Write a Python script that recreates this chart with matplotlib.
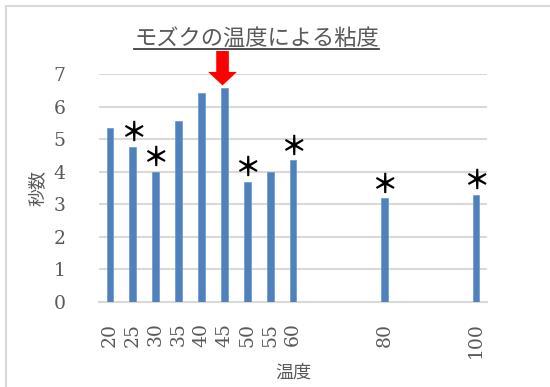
import matplotlib
matplotlib.use('Agg')
import matplotlib.pyplot as plt
from matplotlib.lines import Line2D
from matplotlib.patches import Rectangle

# 温度ごとの粘度（秒数）
temps = [20, 25, 30, 35, 40, 45, 50, 55, 60, 80, 100]
seconds = [5.34, 4.77, 4.00, 5.55, 6.43, 6.58, 3.69, 4.00, 4.35, 3.19, 3.30]
marked = [25, 30, 50, 60, 80, 100]   # ＊印をつける温度
peak = 45                            # 矢印で示す温度

jp = ['Noto Sans CJK JP', 'DejaVu Sans']
num = 'DejaVu Serif'
grey = '#595959'

W, H = 550, 387
fig = plt.figure(figsize=(W / 100, H / 100), dpi=100)
fig.patches.append(Rectangle((6 / W, -0.1), 1.2, 1.1 - 6 / H, transform=fig.transFigure,
                             fill=False, edgecolor='#d9d9d9', linewidth=1.5))

ax = fig.add_axes([99 / W, 1 - 301.7 / H, (487 - 99) / W, (301.7 - 74.4) / H])
ax.bar(temps, seconds, width=1.5, color='#4f81bd', edgecolor='#6a96cc', linewidth=0.5, zorder=3)

ax.set_xlim(17.6, 102.4)
ax.set_ylim(0, 7)
ax.set_yticks(range(8))
ax.set_xticks(temps)
ax.set_xticklabels([str(t) for t in temps], rotation=90, fontfamily=num, fontsize=13.5, color=grey)
ax.set_yticklabels([str(i) for i in range(8)], fontfamily=num, fontsize=13.5, color=grey)
ax.tick_params(length=0)
ax.tick_params(axis='x', pad=15)
ax.tick_params(axis='y', pad=24)
ax.grid(axis='y', color='#d9d9d9', linewidth=1.5, zorder=0)
for s in ['top', 'right', 'left']:
    ax.spines[s].set_visible(False)
ax.spines['bottom'].set_color('#d9d9d9')
ax.spines['bottom'].set_linewidth(1.5)

ax.set_xlabel('温度', family=jp, fontsize=13, color=grey, labelpad=4)
ax.set_ylabel('秒数', family=jp, fontsize=13, color=grey, labelpad=5)

# ＊印
for t, v in zip(temps, seconds):
    if t in marked:
        ax.annotate('＊', xy=(t, v), xytext=(0, 9.5), textcoords='offset points',
                    ha='center', va='center', fontsize=19, family=jp, fontweight='bold',
                    color='black', annotation_clip=False)

# 最大値を示す赤い矢印
ax.annotate('', xy=(peak - 0.4, 6.66), xytext=(peak - 0.4, 7.72),
            arrowprops=dict(arrowstyle='simple,head_width=1.6,head_length=0.75,tail_width=0.7',
                            color='red', lw=0, mutation_scale=13, shrinkA=0, shrinkB=0),
            annotation_clip=False)

# 下線つきタイトル
title = fig.text(256.5 / W, 1 - 38 / H, 'モズクの温度による粘度', family=jp, fontsize=16,
                 color=grey, ha='center', va='center')
fig.canvas.draw()
bb = title.get_window_extent()
fig.lines.append(Line2D([bb.x0, bb.x1], [H - 49, H - 49], color='#404040', linewidth=1.3))

fig.savefig('out.png', dpi=100)
